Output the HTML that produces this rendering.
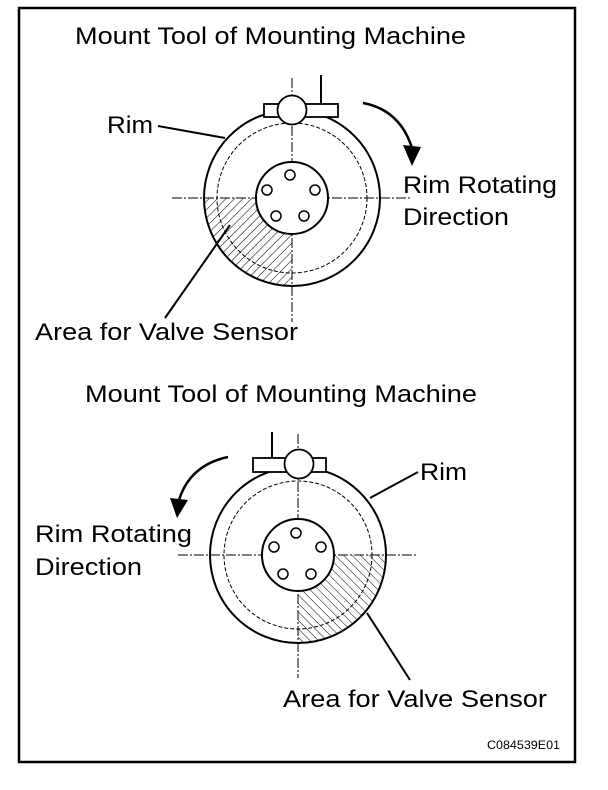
<!DOCTYPE html>
<html><head><style>
body{margin:0;background:#fff;}
svg{display:block;}
text{font-family:"Liberation Sans",Arial,sans-serif;fill:#000;}
</style></head><body>
<svg width="608" height="790" viewBox="0 0 608 790" xmlns="http://www.w3.org/2000/svg">
<defs>
<pattern id="h1" patternUnits="userSpaceOnUse" width="6" height="6" patternTransform="rotate(45)">
<line x1="0" y1="0" x2="0" y2="6" stroke="#000" stroke-width="1"/>
</pattern>
<pattern id="h2" patternUnits="userSpaceOnUse" width="6" height="6" patternTransform="rotate(-45)">
<line x1="0" y1="0" x2="0" y2="6" stroke="#000" stroke-width="1"/>
</pattern>
</defs>
<rect x="19" y="8" width="556" height="754" fill="none" stroke="#000" stroke-width="2.5"/>

<!-- TOP -->
<text x="75" y="44" font-size="24" textLength="391" lengthAdjust="spacingAndGlyphs">Mount Tool of Mounting Machine</text>
<path d="M204,198 A88,88 0 0 0 292,286 L292,234 A36,36 0 0 1 256,198 Z" fill="url(#h1)"/>
<line x1="172" y1="198" x2="410" y2="198" stroke="#000" stroke-width="1" stroke-dasharray="10,2,2,2"/>
<line x1="292" y1="78" x2="292" y2="322" stroke="#000" stroke-width="1" stroke-dasharray="10,2,2,2"/>
<circle cx="292" cy="198" r="88" fill="none" stroke="#000" stroke-width="2"/>
<circle cx="292" cy="198" r="75" fill="none" stroke="#000" stroke-width="1" stroke-dasharray="4,2"/>
<circle cx="292" cy="198" r="36" fill="#fff" stroke="#000" stroke-width="2"/>
<g fill="#fff" stroke="#000" stroke-width="1.5">
<circle cx="290" cy="175" r="5"/><circle cx="267" cy="190" r="5"/><circle cx="315" cy="190" r="5"/>
<circle cx="276" cy="216" r="5"/><circle cx="304" cy="216" r="5"/>
</g>
<line x1="321" y1="75" x2="321" y2="104" stroke="#000" stroke-width="2"/>
<rect x="264" y="104" width="74" height="13" fill="#fff" stroke="#000" stroke-width="1.8"/>
<circle cx="292" cy="110" r="14.5" fill="#fff" stroke="#000" stroke-width="1.8"/>
<path d="M363,103 Q400,110 412,148" fill="none" stroke="#000" stroke-width="2.5"/>
<polygon points="403,145 421,147 412,166" fill="#000"/>
<line x1="158" y1="126" x2="225" y2="138" stroke="#000" stroke-width="2"/>
<line x1="230" y1="225" x2="165" y2="318" stroke="#000" stroke-width="2"/>
<text x="107" y="133" font-size="24" textLength="46" lengthAdjust="spacingAndGlyphs">Rim</text>
<text x="403" y="193" font-size="24" textLength="154" lengthAdjust="spacingAndGlyphs">Rim Rotating</text>
<text x="403" y="225" font-size="24" textLength="106" lengthAdjust="spacingAndGlyphs">Direction</text>
<text x="35" y="340" font-size="24" textLength="263" lengthAdjust="spacingAndGlyphs">Area for Valve Sensor</text>

<!-- BOTTOM -->
<text x="85" y="402" font-size="24" textLength="392" lengthAdjust="spacingAndGlyphs">Mount Tool of Mounting Machine</text>
<path d="M386,555 A88,88 0 0 1 298,643 L298,591 A36,36 0 0 0 334,555 Z" fill="url(#h2)"/>
<line x1="178" y1="555" x2="416" y2="555" stroke="#000" stroke-width="1" stroke-dasharray="10,2,2,2"/>
<line x1="298" y1="434" x2="298" y2="678" stroke="#000" stroke-width="1" stroke-dasharray="10,2,2,2"/>
<circle cx="298" cy="555" r="88" fill="none" stroke="#000" stroke-width="2"/>
<circle cx="298" cy="555" r="74" fill="none" stroke="#000" stroke-width="1" stroke-dasharray="4,2"/>
<circle cx="298" cy="555" r="36" fill="#fff" stroke="#000" stroke-width="2"/>
<g fill="#fff" stroke="#000" stroke-width="1.5">
<circle cx="296" cy="533" r="5"/><circle cx="274" cy="547" r="5"/><circle cx="321" cy="547" r="5"/>
<circle cx="283" cy="574" r="5"/><circle cx="311" cy="574" r="5"/>
</g>
<line x1="272" y1="432" x2="272" y2="458" stroke="#000" stroke-width="2"/>
<rect x="253" y="458" width="73" height="14" fill="#fff" stroke="#000" stroke-width="1.8"/>
<circle cx="299" cy="464" r="14.5" fill="#fff" stroke="#000" stroke-width="1.8"/>
<path d="M228,457 Q190,465 179,500" fill="none" stroke="#000" stroke-width="2.5"/>
<polygon points="170,498 188,500 177,518" fill="#000"/>
<line x1="370" y1="498" x2="418" y2="472" stroke="#000" stroke-width="2"/>
<line x1="367" y1="613" x2="410" y2="680" stroke="#000" stroke-width="2"/>
<text x="420" y="480" font-size="24" textLength="47" lengthAdjust="spacingAndGlyphs">Rim</text>
<text x="35" y="542" font-size="24" textLength="157" lengthAdjust="spacingAndGlyphs">Rim Rotating</text>
<text x="35" y="575" font-size="24" textLength="107" lengthAdjust="spacingAndGlyphs">Direction</text>
<text x="283" y="707" font-size="24" textLength="264" lengthAdjust="spacingAndGlyphs">Area for Valve Sensor</text>
<text x="487" y="749" font-size="12" textLength="73" lengthAdjust="spacingAndGlyphs">C084539E01</text>
</svg>
</body></html>
